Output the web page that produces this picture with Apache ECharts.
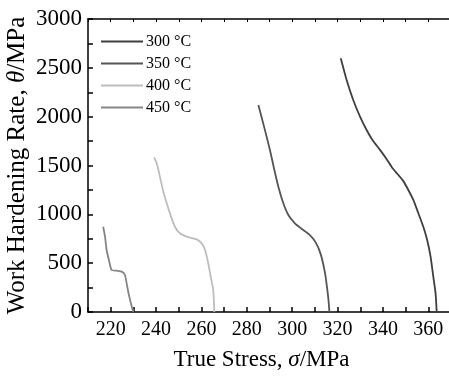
<!DOCTYPE html>
<html>
<head>
<meta charset="utf-8">
<script src="https://cdn.jsdelivr.net/npm/echarts@6/dist/echarts.min.js"></script>
<style>
  html, body { margin: 0; padding: 0; background: #fff; }
  #chart { width: 449px; height: 379px; }
</style>
</head>
<body>
<div id="chart"></div>
<script>
// series names
var names = ['300 °C', '350 °C', '400 °C', '450 °C']
var colors = ['#3f3f3f', '#555555', '#bdbdbd', '#858585']

// [true stress (MPa), work hardening rate (MPa)]
var s300 = [[321.4, 2598], [324, 2376], [326.9, 2171], [329.9, 2000], [332.8, 1864], [335.7, 1750],
  [338.7, 1660], [341.5, 1570], [344, 1480], [346.5, 1410], [349, 1340], [351.2, 1249], [353.4, 1147],
  [355.6, 1011], [357.8, 873], [359.5, 737], [361, 566], [362.2, 361], [363.2, 191], [363.7, 0]]
var s350 = [[285.1, 2120], [287.8, 1880], [290.2, 1659], [291.9, 1480], [293.9, 1283], [296.1, 1113],
  [298.3, 993], [301.2, 908], [304, 855], [307.8, 788], [310.3, 715], [312.6, 590], [314.5, 396],
  [315.5, 225], [316, 123], [316.4, 0]]
var s400 = [[239.1, 1584], [240.3, 1523], [241.7, 1386], [243.2, 1232], [244.7, 1113], [246.1, 1011],
  [248.3, 873], [250.5, 806], [253.5, 771], [257.9, 744], [260.1, 703], [261.6, 635], [263, 499],
  [264.1, 361], [265.2, 225], [265.7, 0]]
var s450 = [[216.7, 873], [217.5, 771], [218.2, 635], [219.4, 515], [220.4, 430], [222.6, 423],
  [224.9, 413], [226.3, 379], [227.3, 259], [228.2, 157], [229.3, 54], [230, 0]]

var serif = '"Liberation Serif", "Times New Roman", serif'

var chart = echarts.init(document.getElementById('chart'))
var allData = [s300, s350, s400, s450]

var option = {
  animation: false,
  grid: { left: 88, right: -2, top: 19, bottom: 67, containLabel: false, outerBoundsMode: 'none' },
  legend: {
    orient: 'vertical',
    left: 96,
    top: 28,
    itemWidth: 42,
    itemHeight: 2,
    itemGap: 5,
    icon: 'rect',
    data: names,
    textStyle: { fontFamily: serif, fontSize: 16, color: '#000', lineHeight: 17, padding: [0, 0, 0, -2] }
  },
  xAxis: [{
    type: 'value',
    min: 210,
    max: 370,
    interval: 10,
    name: 'True Stress, {i|σ}/MPa',
    nameLocation: 'middle',
    nameGap: 36,
    nameMoveOverlap: false,
    nameTextStyle: {
      fontFamily: serif, fontSize: 23, color: '#000', padding: [0, 16, 0, 0],
      rich: { i: { fontFamily: serif, fontSize: 23, fontStyle: 'italic', color: '#000' } }
    },
    axisLine: { lineStyle: { color: '#000', width: 1.5 } },
    axisTick: { inside: true, length: 5, lineStyle: { color: '#000', width: 1.5 } },
    axisLabel: {
      fontFamily: serif, fontSize: 20, color: '#000', margin: 8,
      formatter: function (v) { return v % 20 === 0 ? String(v) : '' }
    },
    splitLine: { show: false }
  }, {
    type: 'value',
    position: 'top',
    min: 210,
    max: 370,
    interval: 10,
    axisLine: { show: true, lineStyle: { color: '#000', width: 1.5 } },
    axisTick: { inside: true, length: 3, lineStyle: { color: '#000', width: 1 } },
    axisLabel: { show: false },
    splitLine: { show: false }
  }],
  yAxis: {
    type: 'value',
    min: 0,
    max: 3000,
    interval: 500,
    name: 'Work Hardening Rate, {i|θ}/MPa',
    nameLocation: 'middle',
    nameGap: 58,
    nameMoveOverlap: false,
    nameTextStyle: {
      fontFamily: serif, fontSize: 25, color: '#000',
      rich: { i: { fontFamily: serif, fontSize: 25, fontStyle: 'italic', color: '#000' } }
    },
    axisLine: { show: true, lineStyle: { color: '#000', width: 1.5 } },
    axisTick: { inside: true, length: 5, lineStyle: { color: '#000', width: 1.5 } },
    minorTick: { show: true, splitNumber: 2, length: 5, lineStyle: { color: '#000', width: 1.5 } },
    axisLabel: {
      fontFamily: serif, fontSize: 23, color: '#000', margin: 6,
      formatter: function (v) { return String(v) }
    },
    splitLine: { show: false }
  },
  series: names.map(function (n, i) {
    return {
      name: n,
      type: 'line',
      data: allData[i],
      symbol: 'none',
      smooth: 0.2,
      color: colors[i],
      lineStyle: { width: 1.8, color: colors[i] }
    }
  })
}
chart.setOption(option)
</script>
</body>
</html>
